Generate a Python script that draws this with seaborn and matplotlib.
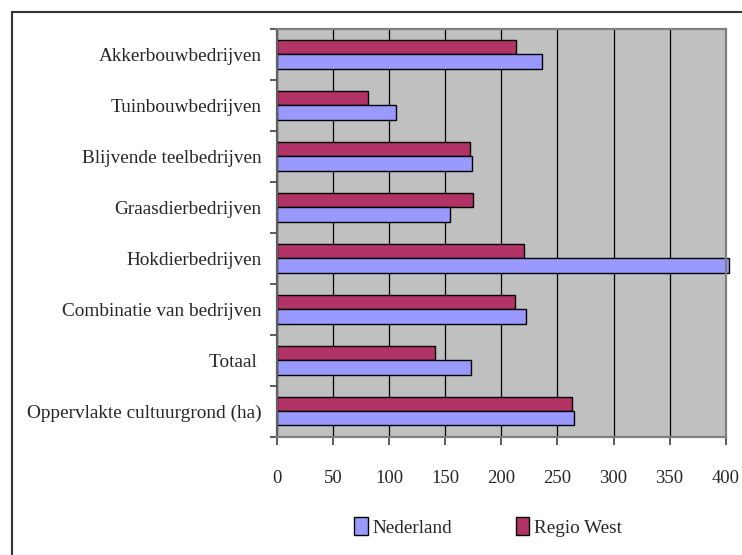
import matplotlib
matplotlib.use("Agg")
import matplotlib.pyplot as plt
from matplotlib.lines import Line2D
from matplotlib.patches import Patch
import numpy as np
import pandas as pd
import seaborn as sns

# Average farm size per farm type (ha)
categories = [
    "Akkerbouwbedrijven",
    "Tuinbouwbedrijven",
    "Blijvende teelbedrijven",
    "Graasdierbedrijven",
    "Hokdierbedrijven",
    "Combinatie van bedrijven",
    "Totaal ",
    "Oppervlakte cultuurgrond (ha)",
]
nederland = [236, 106, 174, 154, 403, 222, 173, 265]
regio_west = [213, 81, 172, 175, 220, 212, 141, 263]
x_ticks = [0, 50, 100, 150, 200, 250, 300, 350, 400]

series_names = ["Nederland", "Regio West"]
colors = {"Nederland": "#9999FF", "Regio West": "#B23366"}

df = pd.DataFrame({
    "category": categories * 2,
    "value": nederland + regio_west,
    "region": ["Nederland"] * len(categories) + ["Regio West"] * len(categories),
})

sns.set_style("white")
plt.rcParams["font.family"] = ["Liberation Serif", "DejaVu Serif"]

W, H = 742, 555
fig = plt.figure(figsize=(W / 100, H / 100), dpi=100)
ax = fig.add_axes([277 / W, 1 - 436.7 / H, (725.7 - 277) / W, (436.7 - 29) / H])
ax.set_facecolor("#C0C0C0")

sns.barplot(
    data=df, x="value", y="category", hue="region",
    order=categories, hue_order=["Regio West", "Nederland"],
    palette=colors, saturation=1, width=0.56, orient="h",
    edgecolor="black", linewidth=1.0, legend=False, ax=ax,
)
for p in ax.patches:
    p.set_clip_on(False)

ax.set_xlim(0, 400)
ax.set_ylim(len(categories) - 0.5, -0.5)
ax.set_xlabel("")
ax.set_ylabel("")

# x axis: gridlines at every tick, ticks pointing down
ax.set_xticks(x_ticks)
ax.set_xticklabels([str(t) for t in x_ticks], fontsize=13.4)
ax.xaxis.grid(True, color="black", linewidth=0.9)
ax.yaxis.grid(False)
ax.set_axisbelow(True)
ax.tick_params(axis="x", direction="out", length=5.8, width=1.2,
               color="#404040", pad=18, bottom=True)

# y axis: labels at category centres, tick marks between categories
ax.set_yticks(np.arange(len(categories)))
ax.set_yticklabels(categories, fontsize=13.9)
ax.tick_params(axis="y", which="major", length=0, pad=11)
ax.set_yticks(np.arange(-0.5, len(categories), 1), minor=True)
ax.tick_params(axis="y", which="minor", direction="out", length=5,
               width=1.2, color="#404040", left=True)

for side, sp in ax.spines.items():
    sp.set_visible(True)
    sp.set_color("#808080")
    sp.set_linewidth(1.6)
ax.spines["left"].set_color("#606060")

handles = [Patch(facecolor=colors[n], edgecolor="black", linewidth=1.0)
           for n in series_names]
fig.legend(
    handles, series_names, ncol=2, frameon=False, loc="center",
    bbox_to_anchor=(488 / W, 1 - 527 / H), fontsize=13.8,
    handlelength=0.7, handleheight=1.0, handletextpad=0.25,
    columnspacing=3.3,
)

# chart area border
fig.add_artist(Line2D([12 / W, 1], [1 - 12 / H, 1 - 12 / H],
                      transform=fig.transFigure, color="#333333", lw=1.5))
fig.add_artist(Line2D([12 / W, 12 / W], [0, 1 - 12 / H],
                      transform=fig.transFigure, color="#333333", lw=1.5))

fig.savefig("out.png", dpi=100, facecolor="white")
